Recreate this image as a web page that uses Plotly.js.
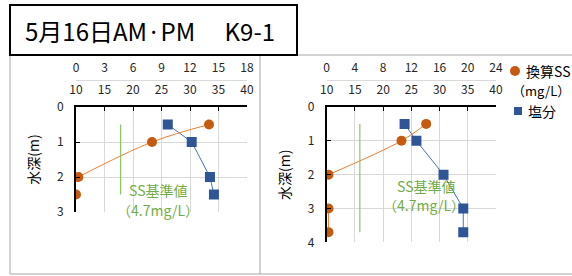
<!DOCTYPE html>
<html><head><meta charset="utf-8">
<script src="https://cdn.plot.ly/plotly-3.0.1.min.js"></script>
<style>html,body{margin:0;padding:0;background:#fff}#c{width:572px;height:276px}</style>
</head><body><div id="c"></div>
<script>
// ---- data ----
const depthL = [0.5, 1, 2, 2.5];
const ssL    = [14.0, 8.0, 0.25, 0.0];     // 換算SS (mg/L)
const saltL  = [26.1, 30.3, 33.5, 34.2];   // 塩分
const depthR = [0.5, 1, 2, 3, 3.7];
const ssR    = [14.1, 10.6, 0.25, 0.25, 0.25];
const saltR  = [23.8, 25.9, 30.7, 34.2, 34.2];
const ssStd = 4.7;                          // SS基準値
const stdDepthL = [0.5, 2.5];
const stdDepthR = [0.5, 3.7];
const ssTicksL = [0, 3, 6, 9, 12, 15, 18];
const ssTicksR = [0, 4, 8, 12, 16, 20, 24];
const saltTicks = [10, 15, 20, 25, 30, 35, 40];
const depthTicksL = [0, 1, 2, 3];
const depthTicksR = [0, 1, 2, 3, 4];
const titleText = '5月16日AM·PM　 K9-1';
const seriesNames = ['換算SS', '（mg/L）', '塩分'];
const stdLabel = ['SS基準値', '（4.7mg/L）'];

// ---- layout helpers ----
const W = 572, H = 276;
const px = x => x / W, py = y => 1 - y / H;
const ORANGE = '#c55a11', ORANGE_L = '#ed7d31', BLUE = '#2f5597', BLUE_L = '#4472c4', GREEN = '#70ad47', GREEN_L = '#8cc465';
const FONT = '"Noto Sans CJK JP", "Noto Sans", sans-serif';
const tickFont = {family: FONT, size: 12, color: '#262626'};

const traces = [
  // left panel
  {x: ssL.slice(0, 3), y: depthL.slice(0, 3), xaxis: 'x2', yaxis: 'y', mode: 'lines',
   line: {color: ORANGE_L, width: 1, shape: 'spline'}, hoverinfo: 'skip'},
  {x: ssL, y: depthL, xaxis: 'x2', yaxis: 'y', mode: 'markers',
   marker: {color: ORANGE, size: 10, symbol: 'circle'}},
  {x: saltL, y: depthL, xaxis: 'x', yaxis: 'y', mode: 'lines+markers',
   line: {color: BLUE_L, width: 1}, marker: {color: BLUE, size: 10, symbol: 'square'}},
  {x: [ssStd, ssStd], y: stdDepthL, xaxis: 'x2', yaxis: 'y', mode: 'lines',
   line: {color: GREEN_L, width: 1.2}},
  // right panel
  {x: [...ssR.slice(0, 3), null, ...ssR.slice(3)], y: [...depthR.slice(0, 3), null, ...depthR.slice(3)],
   xaxis: 'x4', yaxis: 'y2', mode: 'lines', connectgaps: false,
   line: {color: ORANGE_L, width: 1, shape: 'spline'}},
  {x: ssR, y: depthR, xaxis: 'x4', yaxis: 'y2', mode: 'markers',
   marker: {color: ORANGE, size: 10, symbol: 'circle'}},
  {x: saltR, y: depthR, xaxis: 'x3', yaxis: 'y2', mode: 'lines+markers',
   line: {color: BLUE_L, width: 1}, marker: {color: BLUE, size: 10, symbol: 'square'}},
  {x: [ssStd, ssStd], y: stdDepthR, xaxis: 'x4', yaxis: 'y2', mode: 'lines',
   line: {color: GREEN_L, width: 1.2}},
];

const yTop = py(107);
function saltAxis(dom, anchor) {
  return {domain: dom, anchor: anchor, side: 'top', range: [10, 40], tickvals: saltTicks,
    showgrid: true, gridcolor: '#d9d9d9', gridwidth: 1, zeroline: false,
    showline: true, linecolor: '#000', linewidth: 2, ticks: 'inside', ticklen: 4, tickcolor: '#000',
    tickfont: tickFont, ticklabelstandoff: 6, fixedrange: true};
}
function ssAxis(over, ticks, rng) {
  return {overlaying: over, anchor: 'free', position: py(80), side: 'top', range: rng, tickvals: ticks,
    showgrid: false, zeroline: false, showline: true, linecolor: '#d9d9d9', linewidth: 1,
    ticks: '', tickfont: tickFont, ticklabelstandoff: 3, fixedrange: true};
}
function depthAxis(dom, anchor, rng, ticks) {
  return {domain: dom, anchor: anchor, range: rng, tickvals: ticks,
    showgrid: true, gridcolor: '#d9d9d9', zeroline: false,
    showline: true, linecolor: '#000', linewidth: 2, ticks: 'inside', ticklen: 4, tickcolor: '#000',
    tickfont: tickFont, ticklabelstandoff: 8, fixedrange: true,
    title: {text: '水深(m)', font: {family: FONT, size: 14, color: '#000'}, standoff: 14}};
}

const ann = [];
function a(text, x, y, size, color, xref, yref, extra) {
  ann.push(Object.assign({text, x, y, xref: xref || 'paper', yref: yref || 'paper', showarrow: false,
    font: {family: FONT, size, color}, xanchor: 'center', yanchor: 'middle'}, extra || {}));
}
a(titleText, px(150), py(30), 24, '#000');
a(stdLabel[0], 24.4, 2.37, 14, GREEN, 'x', 'y');
a(stdLabel[1], 24.4, 2.94, 14, GREEN, 'x', 'y');
a(stdLabel[0], 27.6, 2.35, 14, GREEN, 'x3', 'y2');
a(stdLabel[1], 27.2, 2.9, 14, GREEN, 'x3', 'y2');
a(seriesNames[0], px(524), py(71), 14, '#000', null, null, {xanchor: 'left'});
a(seriesNames[1], px(510), py(90), 13, '#000', null, null, {xanchor: 'left'});
a(seriesNames[2], px(526), py(111), 14, '#000', null, null, {xanchor: 'left'});

const shapes = [
  {type: 'rect', xref: 'paper', yref: 'paper', x0: px(10), x1: px(260), y0: py(55), y1: py(274),
   line: {color: '#a6a6a6', width: 1}, layer: 'below'},
  {type: 'path', xref: 'paper', yref: 'paper', path: `M ${px(260)} ${py(55)} L ${px(572)} ${py(55)} M ${px(260)} ${py(274)} L ${px(572)} ${py(274)}`,
   line: {color: '#a6a6a6', width: 1}, layer: 'below'},
  {type: 'rect', xref: 'paper', yref: 'paper', x0: px(10), x1: px(297), y0: py(55), y1: py(5),
   line: {color: '#000', width: 2}, fillcolor: '#fff', layer: 'above'},
  // legend keys
  {type: 'circle', xref: 'paper', yref: 'paper', x0: px(510), x1: px(520), y0: py(66), y1: py(76),
   fillcolor: ORANGE, line: {width: 0}},
  {type: 'rect', xref: 'paper', yref: 'paper', x0: px(514), x1: px(522), y0: py(107), y1: py(115),
   fillcolor: BLUE, line: {width: 0}},
];

const layout = {
  width: W, height: H, margin: {l: 0, r: 0, t: 0, b: 0}, showlegend: false,
  paper_bgcolor: '#fff', plot_bgcolor: '#fff', font: {family: FONT},
  xaxis: saltAxis([px(76), px(247)], 'y'),
  xaxis2: ssAxis('x', ssTicksL, [0, 18]),
  yaxis: depthAxis([py(212), yTop], 'x', [3, 0], depthTicksL),
  xaxis3: saltAxis([px(326.7), px(496)], 'y2'),
  xaxis4: ssAxis('x3', ssTicksR, [0, 24]),
  yaxis2: depthAxis([py(242.3), yTop], 'x3', [4, 0], depthTicksR),
  annotations: ann, shapes: shapes,
};
Plotly.newPlot('c', traces, layout, {staticPlot: true});
</script></body></html>
